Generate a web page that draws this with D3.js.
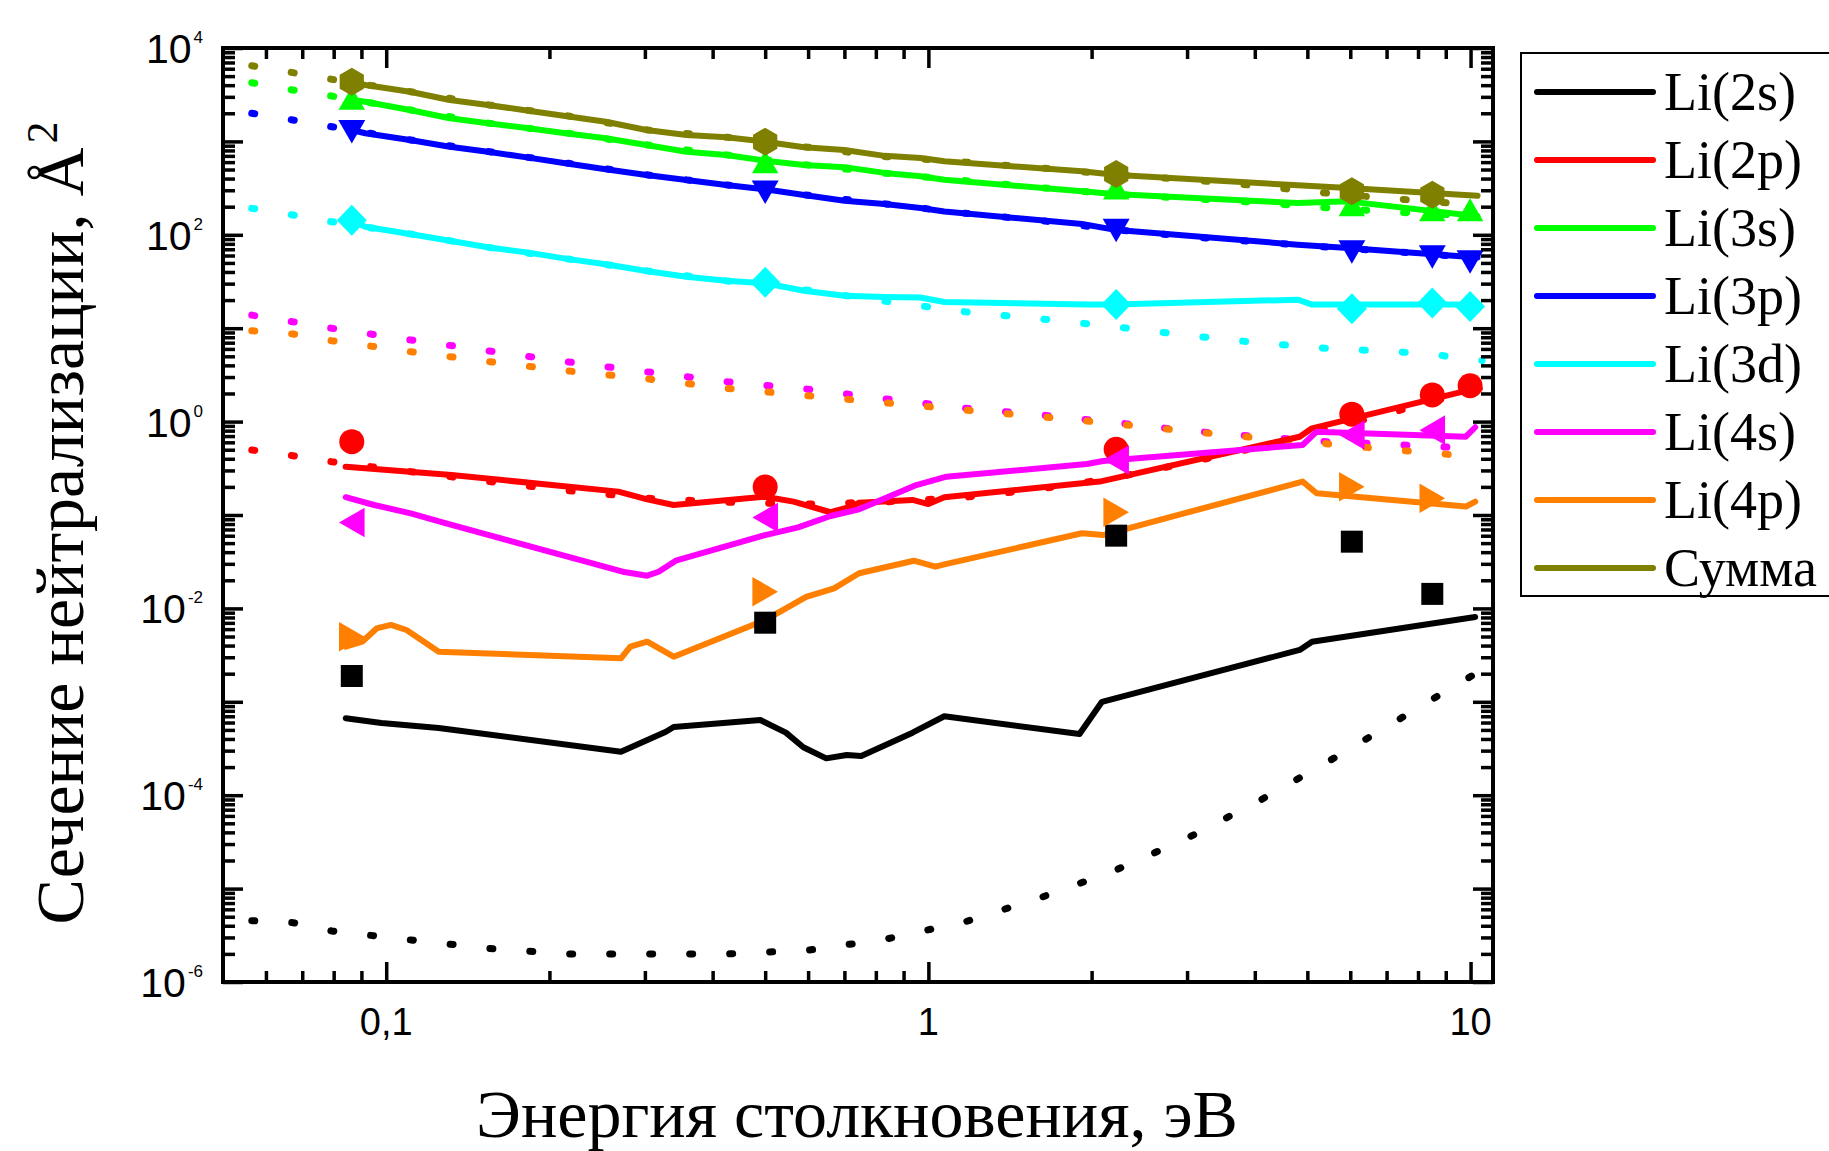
<!DOCTYPE html>
<html><head><meta charset="utf-8">
<script src="https://cdn.jsdelivr.net/npm/d3@7"></script>
<style>body{margin:0;background:#fff} svg{display:block}</style>
</head><body>
<svg id="chart" width="1829" height="1151"></svg>
<script>
// ---------- DATA ----------
const seriesNames  = ["Li(2s)","Li(2p)","Li(3s)","Li(3p)","Li(3d)","Li(4s)","Li(4p)","Сумма"];
const seriesColors = ["#000000","#FF0000","#00FF00","#0000FF","#00FFFF","#FF00FF","#FF8000","#808000"];

const xTickValues = [0.1, 1, 10];
const xTickLabels = ["0,1", "1", "10"];
const yTickValues = [1e-6, 1e-4, 1e-2, 1, 1e2, 1e4];
const yTickExps   = ["-6", "-4", "-2", "0", "2", "4"];

// solid lines (energy eV, cross-section A^2)
const solidE2s = [0.0842,0.098,0.125,0.271,0.328,0.339,0.49,0.546,0.588,0.648,0.707,0.752,0.935,1.07,1.9,2.09,4.84,5.1,10.2];
const solid2s  = [6.65e-4,5.93e-4,5.25e-4,2.92e-4,4.78e-4,5.37e-4,6.38e-4,4.68e-4,3.26e-4,2.48e-4,2.69e-4,2.63e-4,4.67e-4,7.0e-4,4.52e-4,1.0e-3,3.59e-3,4.4e-3,8.1e-3];

const solidE2p = [0.0842,0.132,0.268,0.303,0.339,0.5,0.564,0.66,0.72,0.745,0.935,1.0,1.07,1.96,2.07,4.84,5.1,10.2];
const solid2p  = [0.329,0.268,0.178,0.147,0.128,0.157,0.139,0.107,0.123,0.135,0.145,0.131,0.155,0.222,0.228,0.689,0.847,2.25];

const solidEUpper = [0.0864,0.0915,0.1106,0.131,0.154,0.183,0.214,0.254,0.302,0.358,0.424,0.5,0.59,0.7,0.83,0.967,1.07,1.92,2.2,4.8,5.95,10.3];
const solid3s  = [2775,2660,2170,1768,1563,1380,1222,1080,915,776,715,621,558,530,460,423,389,292,273,219,228,158];
const solid3p  = [1325,1222,1035,877,776,670,583,503,437,386,341,307,267,232,214,194,178,130.5,113.5,78.3,72.2,57];
const solidSum = [4355,4018,3405,2775,2453,2132,1870,1625,1325,1171,1107,993,865,809,700,665,612,478,440,339,317,262];

const solidE3d = [0.0864,0.0915,0.1106,0.131,0.154,0.183,0.214,0.254,0.302,0.358,0.424,0.5,0.59,0.7,0.83,0.967,1.07,1.96,2.2,4.8,5.1,10.3];
const solid3d  = [141.6,122,102,86.5,73.5,64.4,55.6,48.4,40.9,35.6,32.3,30.3,25.2,22.3,21.6,21.3,19.1,17.9,17.9,20.2,17.9,17.9];

const solidE4s = [0.0842,0.095,0.111,0.129,0.273,0.303,0.318,0.342,0.5,0.575,0.66,0.745,0.95,1.08,1.96,2.1,4.9,5.2,9.8,10.2];
const solid4s  = [0.155,0.128,0.104,0.0814,0.0247,0.0224,0.0247,0.0324,0.061,0.0738,0.0975,0.115,0.209,0.257,0.352,0.378,0.562,0.78,0.69,0.87];

const solidE4p = [0.0842,0.0903,0.096,0.102,0.109,0.125,0.271,0.282,0.303,0.339,0.5,0.595,0.67,0.745,0.94,1.03,1.08,1.92,2.1,4.9,5.2,9.8,10.2];
const solid4p  = [3.89e-3,4.4e-3,6.1e-3,6.65e-3,5.87e-3,3.44e-3,2.92e-3,3.89e-3,4.4e-3,3.04e-3,7.5e-3,0.0133,0.0164,0.0238,0.0324,0.028,0.03,0.0637,0.061,0.228,0.171,0.123,0.139];

// dotted lines (approximation)
const dotE    = [0.0565,0.0673,0.0793,0.111,0.155,0.217,0.304,0.426,0.6,0.835,1.17,1.61,2.2,3.0,4.04,5.42,7.26,8.39,10.5];
const dot2s   = [4.53e-6,4.32e-6,3.52e-6,2.82e-6,2.29e-6,1.99e-6,1.99e-6,2.0e-6,2.19e-6,2.88e-6,4.42e-6,8.0e-6,1.55e-5,3.46e-5,8.46e-5,2.23e-4,6.12e-4,1.02e-3,2.2e-3];
const dot2p   = [0.497,0.431,0.372,0.291,0.228,0.182,0.151,0.137,0.131,0.138,0.155,0.19,0.25,0.36,0.53,0.82,1.28,1.6,2.3];
const dot3s   = [4253,3550,3065,2170,1563,1222,915,715,558,455,380,320,272,245,222,195,175,168,158];
const dot3p   = [2000,1695,1437,1035,776,583,437,341,265,214,170,142,114,96,84,74,66,62,56];
const dot3d   = [192,163,138,102,73,55,41,32,25.5,19.4,15,12.6,10.4,8.4,7.0,6.1,5.6,5.3,4.5];
const dot4s   = [13.8,11.7,9.98,7.48,5.70,4.35,3.40,2.67,2.22,1.75,1.39,1.18,0.98,0.80,0.69,0.61,0.57,0.54,0.52];
const dot4p   = [9.4,8.67,7.35,5.6,4.38,3.48,2.86,2.27,1.89,1.59,1.33,1.13,0.95,0.79,0.67,0.58,0.495,0.465,0.413];
const dotSum  = [6460,5445,4620,3405,2453,1870,1325,1107,865,686,600,520,440,390,335,280,243,228,205];

// markers
const markE   = [0.0864,0.5,2.22,6.04,8.5,9.98];
const mark2s  = [1.89e-3,7.03e-3,0.0601,0.0518,0.0143];
const mark2p  = [0.61,0.2,0.505,1.2,1.93,2.42];
const mark3s  = [2900,606,317,210,186,186];
const mark3p  = [1290,290,113,66.5,59,52];
const mark3d  = [143,31,17.9,16.2,18.6,17.1];
const mark4s  = [0.083,0.094,0.388,0.72,0.81];
const mark4p  = [4.98e-3,0.0151,0.107,0.201,0.151];
const markSum = [4355,993,448,292,269];

// ---------- CHART ----------
const svg = d3.select("#chart");
const L = 223, R = 1493, T = 48, B = 982;
const x = d3.scaleLog().domain([0.05, 11]).range([L, R]);
const y = d3.scaleLog().domain([1e-6, 1e4]).range([B, T]);

const zip = (a, b) => a.map((v, i) => [v, b[i]]);

const solids = [
  [solidE2s, solid2s], [solidE2p, solid2p], [solidEUpper, solid3s], [solidEUpper, solid3p],
  [solidE3d, solid3d], [solidE4s, solid4s], [solidE4p, solid4p], [solidEUpper, solidSum]
];
const dots = [dot2s, dot2p, dot3s, dot3p, dot3d, dot4s, dot4p, dotSum];
const marks = [mark2s, mark2p, mark3s, mark3p, mark3d, mark4s, mark4p, markSum];
const markKinds = ["square","circle","up","down","diamond","left","right","hex"];

svg.append("defs").append("clipPath").attr("id","clip")
  .append("rect").attr("x", L).attr("y", T).attr("width", R - L).attr("height", B - T);

const line = d3.line().x(d => x(d[0])).y(d => y(d[1]));
const plot = svg.append("g").attr("clip-path", "url(#clip)");

seriesNames.forEach((n, i) => {
  plot.append("path").datum(zip(dotE, dots[i]))
    .attr("d", line).attr("fill", "none").attr("stroke", seriesColors[i])
    .attr("stroke-width", 7).attr("stroke-linecap", "round")
    .attr("stroke-dasharray", "3,37");
});
seriesNames.forEach((n, i) => {
  plot.append("path").datum(zip(solids[i][0], solids[i][1]))
    .attr("d", line).attr("fill", "none").attr("stroke", seriesColors[i])
    .attr("stroke-width", 6).attr("stroke-linejoin", "round").attr("stroke-linecap", "round");
});

function symbolPath(kind) {
  switch (kind) {
    case "square": return "M-11,-11H11V11H-11Z";
    case "circle": return "M-12.5,0A12.5,12.5 0 1,0 12.5,0A12.5,12.5 0 1,0 -12.5,0Z";
    case "up": return "M0,-11.5L13.2,11.5L-13.2,11.5Z";
    case "down": return "M0,12.5L13.5,-11L-13.5,-11Z";
    case "diamond": return "M0,-15.5L15,0L0,15.5L-15,0Z";
    case "left": return "M-12.8,0L12.8,-14.8L12.8,14.8Z";
    case "right": return "M12.8,0L-12.8,-14.8L-12.8,14.8Z";
    case "hex": {
      const r = 14, p = [];
      for (let k = 0; k < 6; k++) { const a = (-90 + 60 * k) * Math.PI / 180; p.push([r * Math.cos(a), r * Math.sin(a)]); }
      return "M" + p.map(q => q[0].toFixed(2) + "," + q[1].toFixed(2)).join("L") + "Z";
    }
  }
}
seriesNames.forEach((n, i) => {
  const pts = marks[i].map((v, k) => [markE[k], v]);
  svg.append("g").selectAll("path").data(pts).join("path")
    .attr("d", symbolPath(markKinds[i]))
    .attr("transform", d => `translate(${x(d[0])},${y(d[1])})`)
    .attr("fill", seriesColors[i]);
});

// ---------- AXES ----------
const xMinor = [];
[0.01, 0.1, 1].forEach(d => { for (let k = 2; k <= 9; k++) { const v = +(k * d).toPrecision(3); if (v > 0.05 && v < 11) xMinor.push(v); } });
const yMajor = d3.range(-6, 5).map(e => Math.pow(10, e));
const yMinor = [];
d3.range(-6, 4).forEach(e => { for (let k = 2; k <= 9; k++) yMinor.push(k * Math.pow(10, e)); });

function styleAxis(g) {
  g.select(".domain").remove();
  g.selectAll(".tick line").attr("stroke", "#000").attr("stroke-width", 3.5);
  g.selectAll(".tick text").remove();
}
const axes = svg.append("g");
axes.append("g").attr("transform", `translate(0,${B})`).call(d3.axisBottom(x).tickValues(xTickValues).tickSize(-20)).call(styleAxis);
axes.append("g").attr("transform", `translate(0,${B})`).call(d3.axisBottom(x).tickValues(xMinor).tickSize(-11)).call(styleAxis);
axes.append("g").attr("transform", `translate(0,${T})`).call(d3.axisTop(x).tickValues(xTickValues).tickSize(-20)).call(styleAxis);
axes.append("g").attr("transform", `translate(0,${T})`).call(d3.axisTop(x).tickValues(xMinor).tickSize(-11)).call(styleAxis);
axes.append("g").attr("transform", `translate(${L},0)`).call(d3.axisLeft(y).tickValues(yMajor).tickSize(-20)).call(styleAxis);
axes.append("g").attr("transform", `translate(${L},0)`).call(d3.axisLeft(y).tickValues(yMinor).tickSize(-12)).call(styleAxis);
axes.append("g").attr("transform", `translate(${R},0)`).call(d3.axisRight(y).tickValues(yMajor).tickSize(-20)).call(styleAxis);
axes.append("g").attr("transform", `translate(${R},0)`).call(d3.axisRight(y).tickValues(yMinor).tickSize(-12)).call(styleAxis);

svg.append("rect").attr("x", L).attr("y", T).attr("width", R - L).attr("height", B - T)
  .attr("fill", "none").attr("stroke", "#000").attr("stroke-width", 4);

// tick labels
svg.append("g").selectAll("text").data(xTickValues).join("text")
  .attr("x", d => x(d)).attr("y", 1035).attr("text-anchor", "middle")
  .attr("font-family", "'Liberation Sans', Arial, sans-serif").attr("font-size", 38)
  .text((d, i) => xTickLabels[i]);

const yl = svg.append("g").selectAll("text").data(yTickValues).join("text")
  .attr("x", 203).attr("y", d => y(d) + 15).attr("text-anchor", "end")
  .attr("font-family", "'Liberation Sans', Arial, sans-serif").attr("font-size", 41);
yl.append("tspan").text("10");
yl.append("tspan").attr("dy", -20).attr("dx", 2).attr("font-size", 17).text((d, i) => yTickExps[i]);

// axis titles
const serif = "'Liberation Serif', 'Times New Roman', 'DejaVu Serif', serif";
svg.append("text").attr("x", 857).attr("y", 1137).attr("text-anchor", "middle")
  .attr("font-family", serif).attr("font-size", 68)
  .text("Энергия столкновения, эВ");
const yt = svg.append("text").attr("transform", "translate(83,523) rotate(-90)").attr("text-anchor", "middle")
  .attr("font-family", serif).attr("font-size", 68);
yt.append("tspan").text("Сечение нейтрализации, Å");
yt.append("tspan").attr("dy", -26).attr("dx", 4).attr("font-size", 44).text("2");

// legend
const lg = svg.append("g");
lg.append("rect").attr("x", 1521).attr("y", 53).attr("width", 340).attr("height", 543)
  .attr("fill", "#fff").attr("stroke", "#000").attr("stroke-width", 2);
seriesNames.forEach((n, i) => {
  const yy = 92 + i * 68;
  lg.append("line").attr("x1", 1537).attr("x2", 1653).attr("y1", yy).attr("y2", yy)
    .attr("stroke", seriesColors[i]).attr("stroke-width", 6).attr("stroke-linecap", "round");
  lg.append("text").attr("x", 1664).attr("y", yy + 18)
    .attr("font-family", serif).attr("font-size", 54).text(n);
});
</script>
</body></html>
